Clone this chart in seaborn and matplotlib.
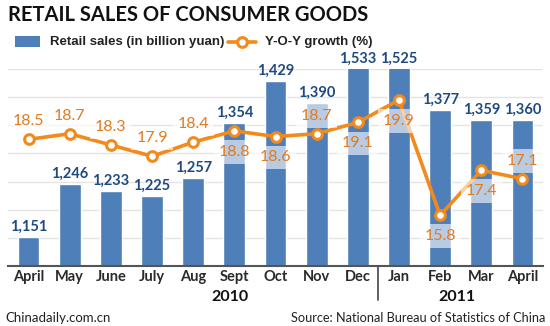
import matplotlib
matplotlib.use("Agg")
import matplotlib.pyplot as plt
import seaborn as sns
import pandas as pd
import numpy as np
from matplotlib.patches import Rectangle
from matplotlib.lines import Line2D

months = ["April", "May", "June", "July", "Aug", "Sept", "Oct", "Nov", "Dec",
          "Jan", "Feb", "Mar", "April"]
years = ["2010"] * 9 + ["2011"] * 4
sales = [1151, 1246, 1233, 1225, 1257, 1354, 1429, 1390, 1533, 1525, 1377, 1359, 1360]
growth = [18.5, 18.7, 18.3, 17.9, 18.4, 18.8, 18.6, 18.7, 19.1, 19.9, 15.8, 17.4, 17.1]
growth_above = [True, True, True, True, True, False, False, True, False, False, False, False, True]
year_labels = ["2010", "2011"]
year_pos = [4.9, 10.4]

BAR = "#4F7FB8"
NAVY = "#1F4A80"
ORANGE = "#F28A1C"
ORANGE_TXT = "#E27A1E"

sns.set_theme(style="white")
plt.rcParams["font.family"] = ["Lato", "DejaVu Sans"]

df = pd.DataFrame({"key": [f"{m} {y}" for m, y in zip(months, years)],
                   "sales": sales, "growth": growth,
                   "idx": np.arange(len(months))})

fig = plt.figure(figsize=(5.5, 3.26), dpi=100)
W, H = 550, 326
ax = fig.add_axes([8 / W, (H - 266) / H, (543 - 8) / W, (266 - 69) / H])

sns.barplot(data=df, x="key", y="sales", color=BAR, saturation=1, width=0.53,
            ax=ax, zorder=2)
ax.set_ylim(1100, 1450)
ax.set_xlim(-0.5, 12.5)
ax.set_yticks(np.arange(1150, 1451, 50))
ax.yaxis.grid(True, color="#E4E4E4", lw=1)
ax.set_axisbelow(True)
ax.set_xticks(range(len(months)))
ax.set_xticklabels(months, fontsize=10.5, fontweight="bold", color="#2a2a2a")
ax.set_xlabel("")
ax.set_ylabel("")
for s in ["top", "right", "left"]:
    ax.spines[s].set_visible(False)
ax.spines["bottom"].set_color("#555555")
ax.spines["bottom"].set_linewidth(1.5)

ax2 = ax.twinx()
ax2.set_position(ax.get_position())
sns.lineplot(data=df, x="idx", y="growth", ax=ax2, color=ORANGE, lw=2.6,
             marker="o", markersize=7, markerfacecolor="white",
             markeredgecolor=ORANGE, markeredgewidth=2.2, zorder=4)
ax2.set_ylim(14, 21)
ax2.set_xlim(-0.5, 12.5)
ax2.axis("off")

# remove tick marks (after twinx, which re-enables left ticks)
ax.tick_params(axis="y", which="both", left=False, right=False, labelleft=False,
               labelright=False, length=0)
ax.tick_params(axis="x", which="both", bottom=False, top=False, length=0, pad=3)

for i, v in enumerate(sales):
    ax.annotate(f"{v:,}", xy=(i, min(v, 1450)), xytext=(0, 4.5), textcoords="offset points",
                ha="center", va="baseline", fontsize=10.5, fontweight="bold",
                color=NAVY, annotation_clip=False, zorder=5)

for i, (g, up) in enumerate(zip(growth, growth_above)):
    off, va = ((0, 10), "baseline") if up else ((0, -10), "top")
    ax2.annotate(f"{g:.1f}", xy=(i, g), xytext=off, textcoords="offset points",
                 ha="center", va=va, fontsize=11.5, color=ORANGE_TXT,
                 bbox=dict(boxstyle="square,pad=0.3", fc="white", ec="none", alpha=0.6),
                 zorder=6)

# year separator and labels
ax.add_line(Line2D([8.5, 8.5], [0, -34 / 197], transform=ax.get_xaxis_transform(),
                   color="#444444", lw=1.2, clip_on=False))
for lab, xp in zip(year_labels, year_pos):
    ax.text(xp, -31 / 197, lab, transform=ax.get_xaxis_transform(), ha="center",
            va="center", fontsize=11.5, fontweight="bold", color="#111111")

# title
fig.text(8 / W, 1 - 15 / H, "RETAIL SALES OF CONSUMER GOODS", ha="left", va="center",
         fontsize=14.5, fontweight="bold", color="#111111")

# legend
fig.patches.append(Rectangle((15 / W, 1 - 47 / H), 25 / W, 11 / H, transform=fig.transFigure,
                             fc=BAR, ec="none"))
fig.text(50 / W, 1 - 42 / H, "Retail sales (in billion yuan)", ha="left", va="center",
         fontsize=9.5, fontweight="bold", family=["Liberation Sans"], color="#222222")
fig.add_artist(Line2D([228 / W, 256 / W], [1 - 42 / H, 1 - 42 / H], transform=fig.transFigure,
                      color=ORANGE, lw=2.6))
fig.add_artist(Line2D([242 / W], [1 - 42 / H], transform=fig.transFigure, color=ORANGE,
                      marker="o", markersize=7, markerfacecolor="white",
                      markeredgecolor=ORANGE, markeredgewidth=2.2, lw=0))
fig.text(265 / W, 1 - 42 / H, "Y-O-Y growth (%)", ha="left", va="center",
         fontsize=9.5, fontweight="bold", family=["Liberation Sans"], color="#222222")

# footer
fig.text(5 / W, 1 - 318 / H, "Chinadaily.com.cn", ha="left", va="center",
         fontsize=9.5, color="#222222")
fig.text(545 / W, 1 - 318 / H, "Source: National Bureau of Statistics of China", ha="right",
         va="center", fontsize=9.2, color="#222222")

fig.savefig("out.png", dpi=100)
